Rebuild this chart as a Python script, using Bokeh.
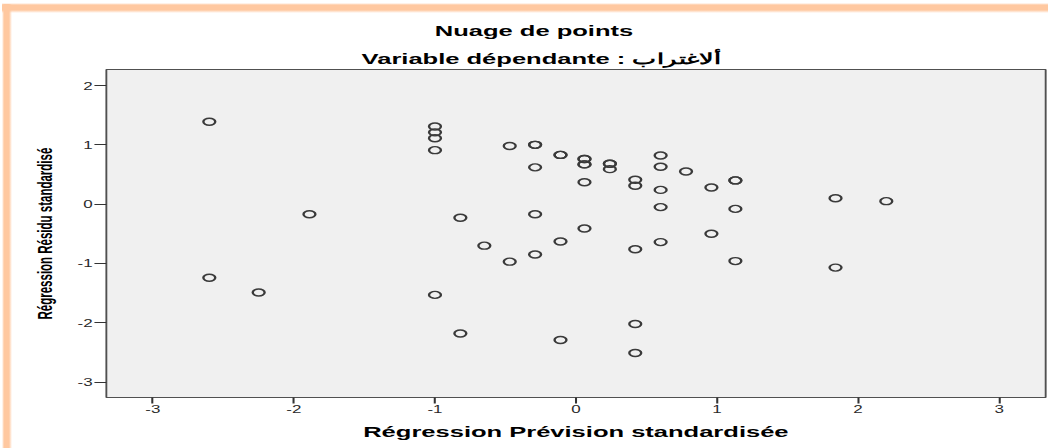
from bokeh.plotting import figure
from bokeh.models import (Range1d, FixedTicker, Title, ColumnDataSource,
                          CustomJSTickFormatter, GlobalInlineStyleSheet)
from bokeh.embed import file_html
from bokeh.resources import INLINE

# ---- data ----
pred_std = [-2.60, -2.60, -2.25, -1.89,
            -1.00, -1.00, -1.00, -1.00, -1.00,
            -0.82, -0.82, -0.65, -0.47, -0.47,
            -0.29, -0.29, -0.29, -0.29, -0.29,
            -0.11, -0.11, -0.11, -0.11,
            0.06, 0.06, 0.06, 0.06, 0.06, 0.06,
            0.24, 0.24, 0.24,
            0.42, 0.42, 0.42, 0.42, 0.42,
            0.60, 0.60, 0.60, 0.60, 0.60,
            0.78, 0.96, 0.96,
            1.13, 1.13, 1.13, 1.13,
            1.84, 1.84, 2.20]
resid_std = [1.39, -1.24, -1.49, -0.17,
             1.31, 1.21, 1.11, 0.91, -1.53,
             -0.23, -2.18, -0.70, 0.98, -0.97,
             1.00, 1.00, 0.62, -0.17, -0.85,
             0.83, 0.83, -0.63, -2.29,
             0.76, 0.76, 0.67, 0.67, 0.37, -0.41,
             0.68, 0.68, 0.59,
             0.41, 0.31, -0.76, -2.02, -2.51,
             0.82, 0.63, 0.24, -0.05, -0.64,
             0.55, 0.28, -0.50,
             0.40, 0.40, -0.08, -0.96,
             0.10, -1.07, 0.05]
x_ticks = [-3, -2, -1, 0, 1, 2, 3]
y_ticks = [-3, -2, -1, 0, 1, 2]

title_text = "Nuage de points"
subtitle_text = "Variable dépendante : ألاغتراب"
x_label = "Régression Prévision standardisée"
y_label = "Régression Résidu standardisé"

FONT = "Liberation Sans"
CSS_W = 362                 # css width of the element before the horizontal stretch
STRETCH = 616 / CSS_W       # the reference chart is stretched horizontally

p = figure(width=CSS_W, height=448, output_backend="svg", toolbar_location=None,
           x_range=Range1d(-3.33, 3.33), y_range=Range1d(-3.26, 2.27),
           min_border_left=62, min_border_right=2, min_border_top=69, min_border_bottom=51,
           background_fill_color="#f0f0f0", border_fill_color=None,
           title=title_text)

p.styles = {
    "transform-origin": "0 0",
    "transform": f"scaleX({STRETCH:.5f})",
}
page_css = GlobalInlineStyleSheet(css="""
body {
  background-color: white;
  background-image: linear-gradient(to right, rgba(255,200,160,0) 2px, #ffc8a0 4px,
                                    #ffc8a0 9px, rgba(255,200,160,0) 12px),
                    linear-gradient(to bottom, rgba(255,200,160,0) 3px, #ffc8a0 5px,
                                    #ffc8a0 10px, rgba(255,200,160,0) 13px);
  background-repeat: no-repeat;
  background-position: 0 4px, 2px 0;
  background-size: 13px 100%, 100% 14px;
  overflow: hidden;
}
""")
p.stylesheets = [page_css]

p.title.text_font = FONT
p.title.text_font_size = "15px"
p.title.text_font_style = "bold"
p.title.text_color = "#000000"
p.title.align = "left"
p.title.offset = 193
p.title.standoff = 13

sub_t = Title(text=subtitle_text, align="left", offset=150, text_font=FONT,
              text_font_size="15px", text_font_style="bold", text_color="#000000",
              standoff=5)
p.add_layout(sub_t, "above")

p.outline_line_color = "#505050"
p.outline_line_width = 1.1
p.xgrid.visible = False
p.ygrid.visible = False

fmt = CustomJSTickFormatter(code="return String(tick);")
for ax in (p.xaxis[0], p.yaxis[0]):
    ax.axis_line_color = None
    ax.major_tick_line_color = "#333333"
    ax.major_tick_line_width = 1.2
    ax.major_tick_in = 0
    ax.minor_tick_line_color = None
    ax.major_label_text_font = FONT
    ax.major_label_text_font_size = "10px"
    ax.major_label_text_color = "#2a2a2a"
    ax.axis_label_text_color = "#000000"
    ax.axis_label_text_font = FONT
    ax.axis_label_text_font_style = "bold"
    ax.formatter = fmt

p.xaxis.ticker = FixedTicker(ticks=x_ticks)
p.yaxis.ticker = FixedTicker(ticks=y_ticks)
p.xaxis.major_tick_out = 6
p.yaxis.major_tick_out = 7
p.xaxis.major_label_standoff = 2
p.yaxis.major_label_standoff = 1

p.xaxis.axis_label = x_label
p.xaxis.axis_label_text_font_size = "15px"
p.xaxis.axis_label_standoff = 7

p.yaxis.axis_label = y_label
p.yaxis.axis_label_text_font_size = "11.5px"
p.yaxis.axis_label_standoff = 10

src = ColumnDataSource(dict(x=pred_std, y=resid_std))
p.scatter(x="x", y="y", size=7, marker="circle", source=src,
          fill_color=None, line_color="#3a3a3a", line_width=1.4)

open("out.html", "w").write(file_html(p, INLINE))
